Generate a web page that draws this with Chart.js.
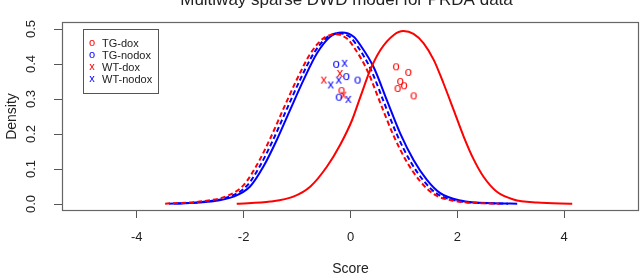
<!DOCTYPE html>
<html>
<head>
<meta charset="utf-8">
<script src="https://cdn.jsdelivr.net/npm/chart.js@4.4.1/dist/chart.umd.min.js"></script>
<style>
  html, body { margin: 0; padding: 0; background: #fff; }
  canvas { display: block; }
</style>
</head>
<body>
<canvas id="chart" width="640" height="275"></canvas>
<script>
const chartTitle = "Multiway sparse DWD model for PRDA data";
const xTicks = [-4, -2, 0, 2, 4];
const yTicks = [0, 0.1, 0.2, 0.3, 0.4, 0.5];
const groups = ["TG-dox", "TG-nodox", "WT-dox", "WT-nodox"];

// density curves
const tgDoxCurveX = [-2.13, -1.5, -1.07, -0.75, -0.44, -0.19, 0.03, 0.18, 0.37, 0.56, 0.81, 0.99, 1.18, 1.37, 1.56, 1.74, 1.93, 2.12, 2.31, 2.49, 2.74, 3.05, 3.49, 4.15];
const tgDoxCurveY = [0.001, 0.007, 0.021, 0.05, 0.107, 0.17, 0.24, 0.304, 0.383, 0.44, 0.483, 0.494, 0.486, 0.459, 0.411, 0.345, 0.269, 0.192, 0.126, 0.078, 0.035, 0.013, 0.004, 0.001];

const tgNodoxCurveX = [-3.31, -2.63, -2.19, -1.88, -1.63, -1.38, -1.13, -0.88, -0.63, -0.38, -0.16, 0.06, 0.18, 0.43, 0.68, 0.93, 1.18, 1.43, 1.68, 2.06, 2.68, 3.12];
const tgNodoxCurveY = [0.001, 0.007, 0.021, 0.05, 0.107, 0.183, 0.269, 0.354, 0.43, 0.478, 0.49, 0.478, 0.455, 0.392, 0.297, 0.202, 0.126, 0.069, 0.031, 0.01, 0.002, 0.001];

const wtDoxCurveX = [-3.47, -2.76, -2.31, -2.0, -1.75, -1.5, -1.25, -1.0, -0.75, -0.5, -0.28, -0.06, 0.06, 0.31, 0.56, 0.81, 1.06, 1.31, 1.56, 1.94, 2.5, 2.78];
const wtDoxCurveY = [0.001, 0.008, 0.023, 0.054, 0.112, 0.188, 0.274, 0.357, 0.43, 0.474, 0.485, 0.472, 0.449, 0.383, 0.288, 0.194, 0.119, 0.064, 0.028, 0.009, 0.002, 0.001];

const wtNodoxCurveX = [-3.4, -2.7, -2.25, -1.94, -1.69, -1.44, -1.19, -0.94, -0.69, -0.44, -0.22, 0.0, 0.12, 0.37, 0.62, 0.87, 1.12, 1.37, 1.62, 2.0, 2.6, 2.95];
const wtNodoxCurveY = [0.001, 0.007, 0.022, 0.052, 0.11, 0.186, 0.272, 0.356, 0.43, 0.476, 0.488, 0.476, 0.453, 0.388, 0.293, 0.198, 0.122, 0.066, 0.029, 0.009, 0.002, 0.001];

// sample scores
const tgDoxX = [0.85, 1.08, 0.93, 0.88, 1.0, 1.18, -0.17];
const tgDoxY = [0.392, 0.376, 0.35, 0.33, 0.338, 0.309, 0.324];
const tgNodoxX = [-0.27, -0.08, 0.13, -0.22];
const tgNodoxY = [0.399, 0.364, 0.354, 0.305];
const wtDoxX = [-0.5, -0.2, -0.13];
const wtDoxY = [0.354, 0.373, 0.311];
const wtNodoxX = [-0.11, -0.37, -0.22, -0.04];
const wtNodoxY = [0.402, 0.34, 0.354, 0.299];

const RED = "#ff0000";
const BLUE = "#0000ff";
const FONT = '"Liberation Sans", Arial, Helvetica, sans-serif';

function zip(xs, ys) {
  return xs.map((x, i) => ({ x: x, y: ys[i] }));
}

// R style "o" / "x" plotting characters
function glyph(ch, color, size) {
  const c = document.createElement("canvas");
  c.width = 12;
  c.height = 13;
  const g = c.getContext("2d");
  g.fillStyle = color;
  g.font = size + "px " + FONT;
  g.textAlign = "center";
  g.textBaseline = "middle";
  g.fillText(ch, 6, 6);
  return c;
}

function pointSet(label, xs, ys, ch, color) {
  return {
    label: label,
    data: zip(xs, ys),
    pointStyle: glyph(ch, color, 13),
    legendGlyph: glyph(ch, color, 11),
    pointRadius: 4,
    showLine: false,
    order: 0,
  };
}

function curveSet(label, xs, ys, color, dash) {
  return {
    label: label,
    data: zip(xs, ys),
    showLine: true,
    borderColor: color,
    borderWidth: 2,
    borderDash: dash,
    pointRadius: 0,
    cubicInterpolationMode: "monotone",
    order: 1,
  };
}

const titlePlugin = {
  id: "rTitle",
  afterDraw(chart) {
    const { ctx, chartArea } = chart;
    ctx.save();
    ctx.fillStyle = "#222";
    ctx.font = "17px " + FONT;
    ctx.textAlign = "center";
    ctx.textBaseline = "alphabetic";
    ctx.fillText(chartTitle, (chartArea.left + chartArea.right) / 2 - 4, 5);
    ctx.restore();
  },
};

const boxPlugin = {
  id: "rBox",
  afterDatasetsDraw(chart) {
    const { ctx, chartArea } = chart;
    ctx.save();
    ctx.strokeStyle = "#666";
    ctx.lineWidth = 1.2;
    ctx.strokeRect(chartArea.left + 0.5, chartArea.top + 0.5, chartArea.right - chartArea.left - 1, chartArea.bottom - chartArea.top - 1);
    ctx.restore();
  },
};

const legendPlugin = {
  id: "rLegend",
  afterDraw(chart) {
    const { ctx, chartArea } = chart;
    const sets = chart.data.datasets.filter((d) => d.showLine === false);
    const left = chartArea.left + 21;
    const top = chartArea.top + 7;
    ctx.save();
    ctx.strokeStyle = "#555";
    ctx.lineWidth = 1;
    ctx.strokeRect(left + 0.5, top + 0.5, 75, 64);
    ctx.font = "11px " + FONT;
    ctx.fillStyle = "#222";
    ctx.textAlign = "left";
    ctx.textBaseline = "middle";
    sets.forEach((d, i) => {
      const y = top + 14.5 + i * 12;
      const g = d.legendGlyph;
      ctx.drawImage(g, left + 9 - g.width / 2, y - g.height / 2);
      ctx.fillText(d.label, left + 19, y);
    });
    ctx.restore();
  },
};

new Chart(document.getElementById("chart"), {
  type: "scatter",
  data: {
    datasets: [
      pointSet(groups[0], tgDoxX, tgDoxY, "o", RED),
      pointSet(groups[1], tgNodoxX, tgNodoxY, "o", BLUE),
      pointSet(groups[2], wtDoxX, wtDoxY, "x", RED),
      pointSet(groups[3], wtNodoxX, wtNodoxY, "x", BLUE),
      curveSet(groups[0] + " density", tgDoxCurveX, tgDoxCurveY, RED, []),
      curveSet(groups[2] + " density", wtDoxCurveX, wtDoxCurveY, RED, [5, 3]),
      curveSet(groups[3] + " density", wtNodoxCurveX, wtNodoxCurveY, BLUE, [5, 3]),
      curveSet(groups[1] + " density", tgNodoxCurveX, tgNodoxCurveY, BLUE, []),
    ],
  },
  options: {
    responsive: false,
    animation: false,
    layout: {
      autoPadding: false,
      padding: { top: 22, right: 1, left: 0, bottom: 0 },
    },
    plugins: {
      legend: { display: false },
      tooltip: { enabled: false },
      title: { display: false },
    },
    scales: {
      x: {
        type: "linear",
        position: "bottom",
        min: -5.4,
        max: 5.4,
        afterBuildTicks: (scale) => {
          scale.ticks = xTicks.map((v) => ({ value: v }));
        },
        afterFit: (scale) => {
          scale.height = 64;
          scale.paddingLeft = 0;
          scale.paddingRight = 0;
        },
        ticks: {
          color: "#222",
          padding: 12,
          font: { family: FONT, size: 13 },
          callback: (v) => String(v),
        },
        grid: {
          drawOnChartArea: false,
          drawTicks: true,
          tickLength: 7,
          color: "#555",
        },
        border: { display: false },
        title: {
          display: true,
          text: "Score",
          color: "#222",
          font: { family: FONT, size: 14 },
          padding: { top: 0, bottom: -3 },
        },
      },
      y: {
        type: "linear",
        min: -0.02,
        max: 0.52,
        afterBuildTicks: (scale) => {
          scale.ticks = yTicks.map((v) => ({ value: v }));
        },
        afterFit: (scale) => {
          scale.width = 62;
        },
        ticks: {
          color: "#222",
          minRotation: 90,
          maxRotation: 90,
          crossAlign: "center",
          padding: 14,
          font: { family: FONT, size: 13 },
          callback: (v) => v.toFixed(1),
        },
        grid: {
          drawOnChartArea: false,
          drawTicks: true,
          tickLength: 8,
          color: "#555",
        },
        border: { display: false },
        title: {
          display: true,
          text: "Density",
          color: "#222",
          font: { family: FONT, size: 14 },
          padding: { top: 4, bottom: 0 },
        },
      },
    },
  },
  plugins: [boxPlugin, legendPlugin, titlePlugin],
});
</script>
</body>
</html>
